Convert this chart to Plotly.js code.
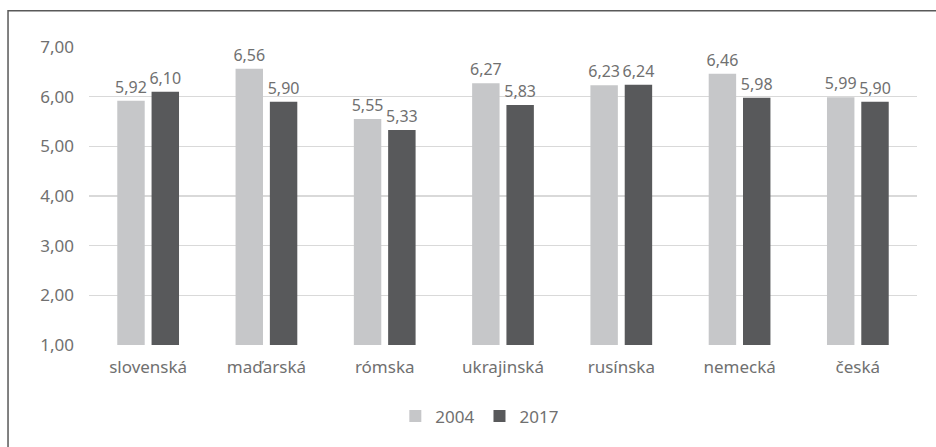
<!DOCTYPE html>
<html>
<head>
<meta charset="utf-8">
<script src="https://cdn.plot.ly/plotly-3.0.1.min.js"></script>
<style>html,body{margin:0;padding:0;background:#fff;}#chart{width:936px;height:447px;}</style>
</head>
<body>
<div id="chart"></div>
<script>
const categories = ["slovenská", "maďarská", "rómska", "ukrajinská", "rusínska", "nemecká", "česká"];
const values2004 = [5.92, 6.56, 5.55, 6.27, 6.23, 6.46, 5.99];
const values2017 = [6.10, 5.90, 5.33, 5.83, 6.24, 5.98, 5.90];
const seriesNames = ["2004", "2017"];

const fam = "Noto Sans, Open Sans, sans-serif";
const txt = "#707070";

const traces = [
  {type: "bar", name: seriesNames[0], x: categories, y: values2004,
   marker: {color: "#C6C7C9"}, texttemplate: "%{y:.2f}", textposition: "outside", constraintext: "none",
   textfont: {family: fam, size: 16, color: txt}, cliponaxis: false},
  {type: "bar", name: seriesNames[1], x: categories, y: values2017,
   marker: {color: "#58595B"}, texttemplate: "%{y:.2f}", textposition: "outside", constraintext: "none",
   textfont: {family: fam, size: 16, color: txt}, cliponaxis: false}
];

const layout = {
  width: 936, height: 447,
  margin: {l: 89, r: 19, t: 47, b: 95},
  paper_bgcolor: "#ffffff", plot_bgcolor: "#ffffff",
  font: {family: fam, size: 17, color: txt},
  separators: ", ",
  barmode: "group",
  bargap: 0.42,
  bargroupgap: 0.2,
  showlegend: true,
  legend: {orientation: "h", x: 0.472, xanchor: "center", y: -0.24, yanchor: "middle",
           font: {family: fam, size: 17, color: txt}, traceorder: "normal", itemwidth: 30},
  xaxis: {tickfont: {family: fam, size: 17, color: txt}, showline: false, ticks: "", showgrid: false,
          automargin: false, ticklabelstandoff: 10},
  yaxis: {range: [1, 7], dtick: 1, tick0: 1, tickformat: ".2f", showgrid: true, gridcolor: "#D9D9D9", gridwidth: 1.3,
          zeroline: false, showline: false, ticks: "", ticklabelstandoff: 14,
          tickfont: {family: fam, size: 17, color: txt}, automargin: false},
  shapes: [{type: "rect", xref: "paper", yref: "paper", x0: -0.0978, x1: 1.2, y0: -0.4, y1: 1.1213,
            line: {color: "#595959", width: 1.5}, fillcolor: "rgba(0,0,0,0)", layer: "above"}]
};

Plotly.newPlot("chart", traces, layout, {displayModeBar: false, staticPlot: true});
</script>
</body>
</html>
